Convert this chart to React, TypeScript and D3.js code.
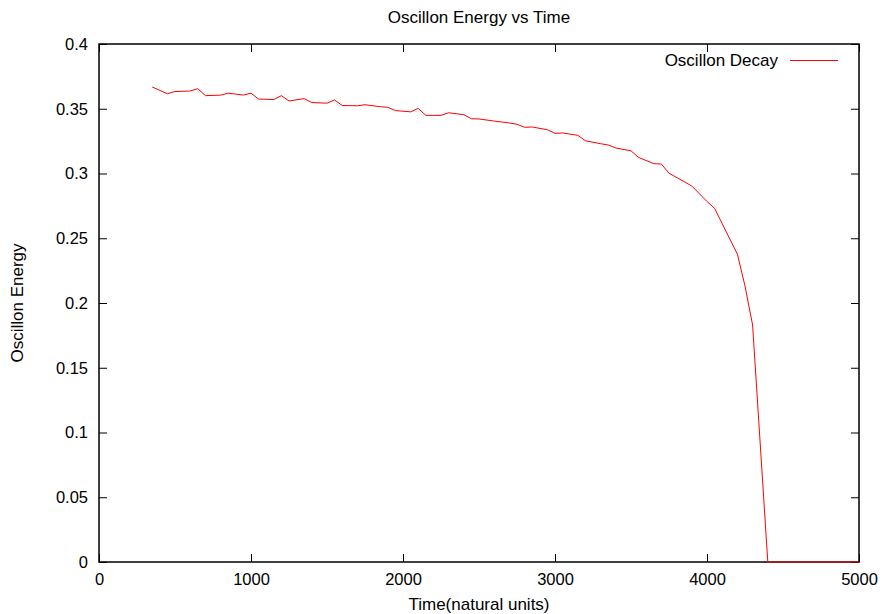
import React, { useEffect, useRef } from 'react';
import * as d3 from 'd3';

// time samples (natural units) and oscillon energy
const times = [
  350, 450, 500, 600, 650, 700, 800, 850, 950, 1000,
  1050, 1150, 1200, 1250, 1350, 1400, 1500, 1550, 1600, 1700,
  1750, 1850, 1900, 1950, 2050, 2100, 2150, 2250, 2300, 2400,
  2450, 2500, 2600, 2700, 2750, 2800, 2850, 2950, 3000, 3050,
  3150, 3200, 3300, 3350, 3400, 3500, 3550, 3650, 3700, 3750,
  3850, 3900, 4000, 4050, 4200, 4250, 4300, 4400, 5000,
];
const energy = [
  0.3668, 0.3616, 0.3633, 0.3637, 0.3655, 0.3601, 0.3605, 0.362, 0.3606, 0.362,
  0.3575, 0.3571, 0.3601, 0.356, 0.3578, 0.3548, 0.3543, 0.3568, 0.3525, 0.3523,
  0.3531, 0.3516, 0.3511, 0.3486, 0.3476, 0.3503, 0.3449, 0.3449, 0.3469, 0.3454,
  0.3423, 0.3421, 0.3405, 0.339, 0.338, 0.3357, 0.3359, 0.3338, 0.331, 0.3313,
  0.3295, 0.3253, 0.323, 0.322, 0.3197, 0.3175, 0.3124, 0.3076, 0.3073, 0.3002,
  0.2937, 0.2903, 0.2784, 0.2731, 0.2377, 0.2131, 0.183, 0.0, 0.0,
];

const xTicks = [0, 1000, 2000, 3000, 4000, 5000];
const yTicks = [0, 0.05, 0.1, 0.15, 0.2, 0.25, 0.3, 0.35, 0.4];

const chartTitle = 'Oscillon Energy vs Time';
const xLabel = 'Time(natural units)';
const yLabel = 'Oscillon Energy';
const seriesName = 'Oscillon Decay';

const W = 883;
const H = 614;
const margin = { top: 44, right: 24, bottom: 52, left: 99 };

export default function App() {
  const svgRef = useRef<SVGSVGElement>(null);

  useEffect(() => {
    const svg = d3.select(svgRef.current);
    svg.selectAll('*').remove();

    const iw = W - margin.left - margin.right;
    const ih = H - margin.top - margin.bottom;
    const font = '"Liberation Sans", Arial, sans-serif';
    const fs = 16.5;

    const x = d3.scaleLinear().domain([0, 5000]).range([0, iw]);
    const y = d3.scaleLinear().domain([0, 0.4]).range([ih, 0]);

    svg.append('rect').attr('width', W).attr('height', H).attr('fill', 'white');

    const g = svg.append('g').attr('transform', `translate(${margin.left},${margin.top})`);

    // ticks on all four sides, pointing inward
    const styleAxis = (sel: any) => {
      sel.select('.domain').remove();
      sel.selectAll('line').attr('stroke', '#000').attr('stroke-width', 1);
      sel.selectAll('text')
        .attr('font-family', font)
        .attr('font-size', fs)
        .attr('fill', '#000');
    };

    g.append('g')
      .attr('transform', `translate(0,${ih})`)
      .call(d3.axisBottom(x).tickValues(xTicks).tickFormat(d3.format('d')).tickSize(-8).tickPadding(11))
      .call(styleAxis);

    g.append('g')
      .call(d3.axisTop(x).tickValues(xTicks).tickFormat(() => '').tickSize(-8))
      .call(styleAxis);

    g.append('g')
      .call(d3.axisLeft(y).tickValues(yTicks).tickFormat(d => String(+d)).tickSize(-8).tickPadding(11))
      .call(styleAxis);

    g.append('g')
      .attr('transform', `translate(${iw},0)`)
      .call(d3.axisRight(y).tickValues(yTicks).tickFormat(() => '').tickSize(-8))
      .call(styleAxis);

    // frame
    g.append('rect')
      .attr('width', iw)
      .attr('height', ih)
      .attr('fill', 'none')
      .attr('stroke', '#000')
      .attr('stroke-width', 1.5);

    const data = times.map((t, i) => ({ t, v: energy[i] }));
    const line = d3.line<{ t: number; v: number }>()
      .x(d => x(d.t))
      .y(d => y(d.v));

    g.append('path')
      .datum(data)
      .attr('fill', 'none')
      .attr('stroke', '#ff0000')
      .attr('stroke-width', 1)
      .attr('d', line);

    // legend
    g.append('text')
      .attr('x', iw - 81)
      .attr('y', 22)
      .attr('text-anchor', 'end')
      .attr('font-family', font)
      .attr('font-size', 17)
      .text(seriesName);
    g.append('line')
      .attr('x1', iw - 69)
      .attr('x2', iw - 21)
      .attr('y1', 16.5)
      .attr('y2', 16.5)
      .attr('stroke', '#ff0000')
      .attr('stroke-width', 1);

    // titles
    svg.append('text')
      .attr('x', margin.left + iw / 2)
      .attr('y', 23)
      .attr('text-anchor', 'middle')
      .attr('font-family', font)
      .attr('font-size', 17)
      .text(chartTitle);

    svg.append('text')
      .attr('x', margin.left + iw / 2)
      .attr('y', 610)
      .attr('text-anchor', 'middle')
      .attr('font-family', font)
      .attr('font-size', 17)
      .text(xLabel);

    svg.append('text')
      .attr('transform', `translate(23,${margin.top + ih / 2}) rotate(-90)`)
      .attr('text-anchor', 'middle')
      .attr('font-family', font)
      .attr('font-size', 17)
      .text(yLabel);
  }, []);

  return (
    <svg
      ref={svgRef}
      width={W}
      height={H}
      style={{ position: 'absolute', left: 0, top: 0, display: 'block' }}
    />
  );
}
